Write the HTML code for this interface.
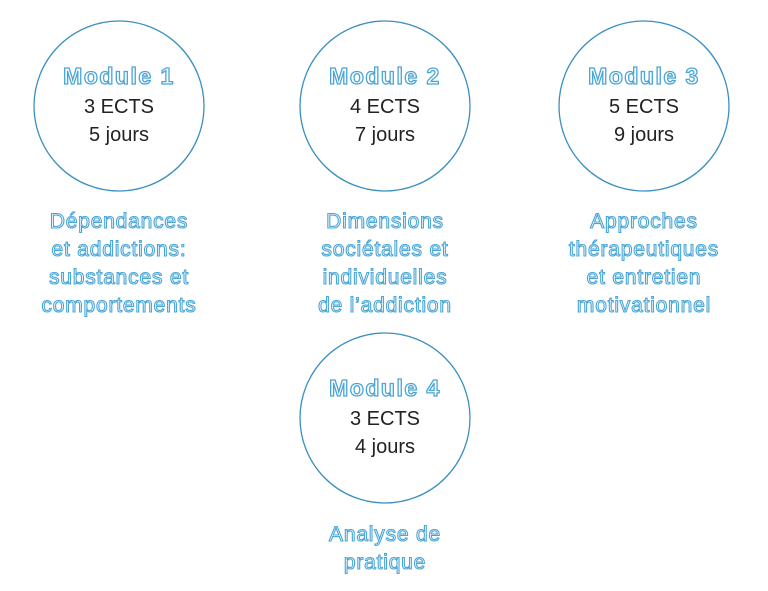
<!DOCTYPE html>
<html><head><meta charset="utf-8"><style>
html,body{margin:0;padding:0;background:#fff;width:768px;height:591px;overflow:hidden}
svg{display:block}
.h{font:bold 23px "Liberation Sans",sans-serif;fill:#fff;stroke:#4aa6d6;stroke-width:1.3px;text-anchor:middle;letter-spacing:1.5px}
.n{font:20px "Liberation Sans",sans-serif;fill:#222;text-anchor:middle}
.d{font:21px "Liberation Sans",sans-serif;fill:#fff;stroke:#4aa6d6;stroke-width:1.1px;text-anchor:middle;letter-spacing:0.8px}
circle{fill:none;stroke:#3a8fc0;stroke-width:1.3}
</style></head><body>
<svg width="768" height="591" viewBox="0 0 768 591">
<circle cx="119" cy="106" r="85"/>
<circle cx="385" cy="106" r="85"/>
<circle cx="644" cy="106" r="85"/>
<circle cx="385" cy="418" r="85"/>
<text class="h" x="119" y="84">Module 1</text>
<text class="n" x="119" y="113">3 ECTS</text>
<text class="n" x="119" y="141">5 jours</text>
<text class="h" x="385" y="84">Module 2</text>
<text class="n" x="385" y="113">4 ECTS</text>
<text class="n" x="385" y="141">7 jours</text>
<text class="h" x="644" y="84">Module 3</text>
<text class="n" x="644" y="113">5 ECTS</text>
<text class="n" x="644" y="141">9 jours</text>
<text class="h" x="385" y="396">Module 4</text>
<text class="n" x="385" y="425">3 ECTS</text>
<text class="n" x="385" y="453">4 jours</text>
<text class="d" x="119" y="228">Dépendances</text>
<text class="d" x="119" y="256">et addictions:</text>
<text class="d" x="119" y="284">substances et</text>
<text class="d" x="119" y="312">comportements</text>
<text class="d" x="385" y="228">Dimensions</text>
<text class="d" x="385" y="256">sociétales et</text>
<text class="d" x="385" y="284">individuelles</text>
<text class="d" x="385" y="312">de l’addiction</text>
<text class="d" x="644" y="228">Approches</text>
<text class="d" x="644" y="256">thérapeutiques</text>
<text class="d" x="644" y="284">et entretien</text>
<text class="d" x="644" y="312">motivationnel</text>
<text class="d" x="385" y="541">Analyse de</text>
<text class="d" x="385" y="569">pratique</text>
</svg>
</body></html>
